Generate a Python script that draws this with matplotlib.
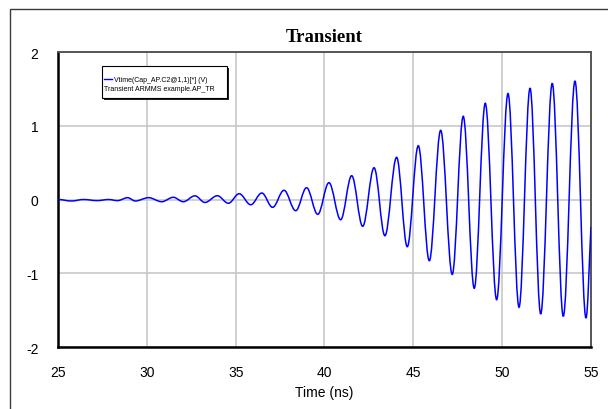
import matplotlib.pyplot as plt
from matplotlib.path import Path
from matplotlib.patches import PathPatch, Rectangle
from matplotlib.lines import Line2D

plt.rcParams["axes.unicode_minus"] = False

# Turning points of the transient (time in ns, voltage in V)
peak_times = [25.0, 25.75, 26.45, 27.2, 27.85, 28.35, 28.92, 29.35, 30.1, 30.84,
              31.49, 32.05, 32.71, 33.27, 33.97, 34.59, 35.20, 35.85, 36.47, 37.08,
              37.72, 38.38, 38.99, 39.62, 40.25, 40.91, 41.53, 42.15, 42.79, 43.40,
              44.06, 44.66, 45.28, 45.90, 46.54, 47.19, 47.81, 48.43, 49.05, 49.69,
              50.33, 50.95, 51.57, 52.17, 52.82, 53.44, 54.10, 54.72, 55.0]
peak_volts = [0.0, -0.02, 0.0, -0.015, 0.0, -0.015, 0.025, -0.02, 0.025, -0.03,
              0.03, -0.03, 0.05, -0.04, 0.051, -0.051, 0.078, -0.071, 0.088, -0.106,
              0.125, -0.152, 0.160, -0.201, 0.228, -0.274, 0.323, -0.363, 0.431, -0.491,
              0.572, -0.640, 0.729, -0.830, 0.938, -1.015, 1.128, -1.204, 1.305, -1.358,
              1.437, -1.461, 1.51, -1.552, 1.575, -1.584, 1.607, -1.607, -0.37]

x_ticks = [25, 30, 35, 40, 45, 50, 55]
y_ticks = [-2, -1, 0, 1, 2]
legend_lines = ["Vtime(Cap_AP.C2@1,1)[*] (V)", "Transient ARMMS example.AP_TR"]

fig = plt.figure(figsize=(6.08, 4.10), dpi=100)
ax = fig.add_axes([0.0954, 0.1512, 0.8766, 0.7195])

# outer border of the plot window
fig.patches.append(Rectangle((9.5 / 608, -1), 5, 1 + (1 - 10 / 410), transform=fig.transFigure,
                             fill=False, edgecolor="#3a3a3a", linewidth=1))

# smooth the waveform between turning points with cubic beziers
k = 0.3634
verts = [(peak_times[0], peak_volts[0])]
codes = [Path.MOVETO]
n = len(peak_times)
for i in range(1, n):
    t0, v0 = peak_times[i - 1], peak_volts[i - 1]
    t1, v1 = peak_times[i], peak_volts[i]
    d = (t1 - t0) * k
    if i == n - 1:
        c2 = (t1 - (t1 - t0) / 3, v1 - (v1 - v0) / 3)
    else:
        c2 = (t1 - d, v1)
    verts += [(t0 + d, v0), c2, (t1, v1)]
    codes += [Path.CURVE4] * 3
wave = PathPatch(Path(verts, codes), fill=False, edgecolor="#0000ff", linewidth=1.1, zorder=3)
ax.add_patch(wave)

ax.set_xlim(25, 55)
ax.set_ylim(-2, 2)
ax.set_xticks(x_ticks)
ax.set_yticks(y_ticks)
ax.grid(True, color="#c8c8c8", linewidth=1.2)
ax.set_axisbelow(True)
ax.tick_params(length=0, labelsize=10)
ax.tick_params(axis="x", pad=13)
ax.tick_params(axis="y", pad=14)
for lbl in ax.get_xticklabels() + ax.get_yticklabels():
    lbl.set_fontfamily("Liberation Sans")

for side in ["left", "bottom"]:
    ax.spines[side].set_color("black")
    ax.spines[side].set_linewidth(1.8)
for side in ["top", "right"]:
    ax.spines[side].set_color("#555555")
    ax.spines[side].set_linewidth(1.4)

ax.set_xlabel("Time (ns)", fontsize=10, family="Liberation Sans", labelpad=4)
ax.set_title("Transient", fontsize=13.5, fontweight="bold", family="Liberation Serif", pad=8)

# legend box with drop shadow
lx0, ly0, lw, lh = 0.0826, 0.844, 0.2345, 0.1085
ax.add_patch(Rectangle((lx0 + 0.004, ly0 - 0.007), lw, lh, transform=ax.transAxes,
                       facecolor="#202020", edgecolor="none", zorder=5))
ax.add_patch(Rectangle((lx0, ly0), lw, lh, transform=ax.transAxes,
                       facecolor="white", edgecolor="black", linewidth=0.8, zorder=6))
ax.add_line(Line2D([0.0863, 0.101], [0.908, 0.908], transform=ax.transAxes,
                   color="#0000ff", linewidth=1.0, zorder=7))
ax.text(0.105, 0.908, legend_lines[0], transform=ax.transAxes, fontsize=5,
        family="Liberation Sans", va="center", ha="left", zorder=7)
ax.text(0.0863, 0.878, legend_lines[1], transform=ax.transAxes, fontsize=5,
        family="Liberation Sans", va="center", ha="left", zorder=7)

fig.savefig("out.png", dpi=100)
